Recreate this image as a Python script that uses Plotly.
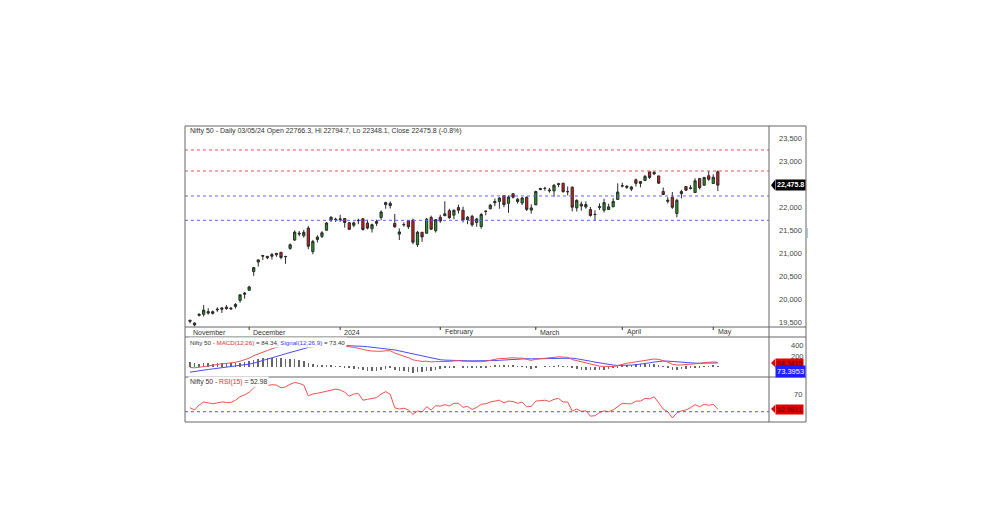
import plotly.graph_objects as go

# ---------------- data ----------------
dates = (["2023-11-%02d" % d for d in [12, 13, 15, 16, 17, 20, 21, 22, 23, 24, 28, 29, 30]] +
         ["2023-12-%02d" % d for d in [1, 4, 5, 6, 7, 8, 11, 12, 13, 14, 15, 18, 19, 20, 21, 22, 26, 27, 28, 29]] +
         ["2024-01-%02d" % d for d in [1, 2, 3, 4, 5, 8, 9, 10, 11, 12, 15, 16, 17, 18, 19, 20, 23, 24, 25, 29, 30, 31]] +
         ["2024-02-%02d" % d for d in [1, 2, 5, 6, 7, 8, 9, 12, 13, 14, 15, 16, 19, 20, 21, 22, 23, 26, 27, 28, 29]] +
         ["2024-03-%02d" % d for d in [1, 2, 4, 5, 6, 7, 11, 12, 13, 14, 15, 18, 19, 20, 21, 22, 26, 27, 28]] +
         ["2024-04-%02d" % d for d in [1, 2, 3, 4, 5, 8, 9, 10, 12, 15, 16, 18, 19, 22, 23, 24, 25, 26, 29, 30]] +
         ["2024-05-%02d" % d for d in [2, 3]])

opens = [19547, 19486, 19651, 19674, 19700, 19731, 19770, 19784, 19828, 19809, 19844, 19976, 20108,
         20195, 20601, 20808, 20950, 20932, 20934, 20965, 21019, 20930, 21104, 21285, 21435, 21378, 21544,
         21034, 21296, 21365, 21497, 21715, 21738,
         21727, 21752, 21661, 21605, 21705, 21747, 21653, 21529, 21688, 21773, 22054, 22081, 21647, 21414,
         21615, 21707, 21716, 21185, 21454, 21433, 21775, 21487,
         21780, 21812, 21921, 21825, 21990, 21932, 21727, 21800, 21664, 21578, 21907, 21963, 22095, 22123,
         22249, 22081, 22291, 22170, 22090, 22214, 21935,
         22048, 22403, 22404, 22372, 22351, 22508, 22517, 22334, 22432, 21983, 22064, 22002, 21946, 21843,
         21989, 21932, 21947, 22006, 22164,
         22455, 22427, 22389, 22592, 22556, 22578, 22765, 22720, 22677, 22339, 22125, 22212, 21861, 22291,
         22447, 22421, 22316, 22620, 22475, 22679,
         22511, 22766.3]
highs = [19547, 19495, 19693, 19876, 19806, 19756, 19826, 19825, 19876, 19832, 19916, 20104, 20158,
         20292, 20702, 20864, 20962, 20941, 21006, 20999, 21027, 20941, 21211, 21493, 21482, 21505, 21593,
         21289, 21390, 21477, 21675, 21801, 21770,
         21834, 21755, 21677, 21685, 21749, 21764, 21724, 21641, 21726, 21928, 22116, 22124, 21851, 21539,
         21670, 21707, 21750, 21482, 21459, 21763, 21814, 21742,
         21833, 22127, 21964, 21951, 22053, 22011, 21804, 21832, 21766, 21870, 21922, 22069, 22186, 22215,
         22249, 22252, 22297, 22200, 22218, 22229, 22060,
         22353, 22419, 22440, 22416, 22497, 22526, 22526, 22446, 22447, 22166, 22121, 22123, 22002, 21930,
         22081, 22180, 22073, 22193, 22516,
         22530, 22473, 22460, 22619, 22563, 22697, 22768, 22775, 22677, 22427, 22213, 22327, 22180, 22375,
         22447, 22476, 22626, 22620, 22655, 22783,
         22711, 22794.7]
lows = [19480, 19414, 19628, 19627, 19667, 19670, 19728, 19703, 19772, 19768, 19800, 19926, 20015,
        20183, 20508, 20711, 20852, 20868, 20863, 20923, 20867, 20769, 21075, 21268, 21365, 21337, 21087,
        20977, 21232, 21329, 21495, 21679, 21677,
        21680, 21555, 21500, 21564, 21629, 21493, 21517, 21449, 21593, 21715, 21964, 21970, 21550, 21285,
        21575, 21526, 21193, 21137, 21247, 21429, 21501, 21448,
        21659, 21806, 21742, 21737, 21860, 21665, 21629, 21574, 21574, 21531, 21822, 21954, 22021, 21964,
        21997, 21875, 22186, 22076, 22045, 21915, 21860,
        22047, 22370, 22353, 22313, 22224, 22433, 22318, 22256, 21906, 21905, 21922, 21965, 21793, 21711,
        21941, 21883, 21947, 21998, 22164,
        22428, 22395, 22347, 22446, 22429, 22564, 22612, 22696, 22503, 22259, 22079, 21962, 21777, 22188,
        22349, 22384, 22305, 22385, 22462, 22568,
        22511, 22348.1]
closes = [19525, 19443, 19675, 19765, 19732, 19694, 19783, 19812, 19802, 19795, 19890, 20097, 20133,
          20268, 20687, 20855, 20937, 20901, 20970, 20997, 20906, 20926, 21183, 21457, 21419, 21453, 21150,
          21255, 21349, 21442, 21655, 21779, 21731,
          21742, 21666, 21518, 21659, 21711, 21513, 21545, 21619, 21648, 21895, 22097, 22032, 21572, 21462,
          21622, 21572, 21239, 21454, 21353, 21738, 21522, 21726,
          21698, 21854, 21771, 21930, 21931, 21718, 21782, 21616, 21743, 21840, 21911, 22041, 22122, 22197,
          22055, 22218, 22213, 22122, 22198, 21951, 21983,
          22339, 22379, 22406, 22356, 22474, 22493, 22333, 22335, 21998, 22147, 22023, 22056, 21817, 21839,
          22012, 22097, 22005, 22124, 22327,
          22462, 22453, 22435, 22515, 22514, 22666, 22643, 22754, 22519, 22273, 22148, 21996, 22147, 22336,
          22368, 22402, 22570, 22420, 22643, 22605,
          22648, 22475.8]

macd = [-10, -15, -5, 10, 20, 28, 50, 58, 65, 72, 85, 105, 130,
        160, 205, 240, 270, 300, 330, 360, 375, 385, 405, 430, 445, 455, 430, 415, 405, 400, 405, 410, 405,
        395, 385, 370, 355, 340, 315, 300, 290, 282, 285, 295, 295, 255, 220, 195, 170, 130, 115, 100, 105, 92, 98,
        96, 102, 100, 110, 115, 105, 102, 88, 88, 95, 105, 122, 138, 155, 155, 165, 168, 162, 160, 138, 120,
        140, 152, 163, 165, 175, 185, 182, 175, 135, 115, 88, 68, 45, 25, 15, 12, 5, 8, 25,
        50, 68, 80, 95, 105, 122, 132, 145, 138, 118, 90, 50, 36, 38, 42, 49, 62, 65, 78, 85,
        92, 84.34]
signal = [-95, -80, -68, -55, -45, -35, -25, -15, -5, 5, 15, 25, 38,
          52, 70, 92, 115, 140, 165, 190, 215, 240, 265, 290, 315, 340, 355, 368, 375, 380, 385, 390, 392,
          393, 392, 388, 384, 380, 375, 368, 360, 350, 340, 330, 320, 310, 292, 275, 255, 235, 215, 195, 178, 160, 145,
          132, 125, 120, 117, 115, 114, 113, 112, 111, 110, 111, 113, 117, 122, 128, 135, 140, 145, 148, 150, 148,
          150, 152, 155, 157, 160, 163, 165, 166, 160, 150, 138, 122, 105, 88, 72, 58, 45, 35, 28,
          27, 30, 35, 42, 50, 62, 75, 90, 102, 108, 106, 98, 90, 82, 76, 72, 70, 69, 70, 71,
          72, 73.40]
rsi = [54.5, 52, 57.6, 61, 60, 59, 60, 61, 60.5, 60.5, 63, 67, 69,
       72, 77, 79, 80, 79.5, 80.5, 80, 77, 78, 81, 83, 82, 80, 68, 70, 70.8, 72, 73.4, 75, 75.5,
       74.5, 72, 67.5, 70, 70.5, 63, 64, 65, 66, 70, 72.6, 69.7, 54.5, 53, 54, 52, 47, 50.8, 49.7, 55.6, 52, 56.8,
       56.3, 58, 56.5, 59.5, 59.5, 55, 56, 52.5, 55, 58.5, 59, 61, 62, 63, 60, 62, 61.5, 59.5, 61, 55.6, 56,
       62, 62.5, 63, 61.5, 64, 65, 61, 61, 50.8, 53, 50.5, 51, 45, 45.5, 49, 51, 50, 52, 56,
       59.5, 59, 59, 62, 62, 65, 64.5, 67, 60, 53, 50, 43, 48.5, 51, 52, 54.5, 58, 55.6, 58.4, 57.2,
       58.4, 52.98]

month_labels = ["November", "December", "2024", "February", "March", "April", "May"]
month_starts = ["2023-11-12", "2023-12-01", "2024-01-01", "2024-02-01", "2024-03-01", "2024-04-01", "2024-05-02"]
price_ticks = [19500, 20000, 20500, 21000, 21500, 22000, 23000, 23500]
macd_ticks = [200, 400]
rsi_ticks = [70]
level_lines_red = [23239, 22783]
level_lines_blue = [22241, 21713]
macd_tag_text = "84.3415"
signal_tag_text = "73.3953"
rsi_tag_text = "52.9811"

# ---------------- figure ----------------
# page body has an 8px default margin -> plot area placed at x 185..769, y 126..422 on screen
L, T = 185 - 8, 126 - 8
PW, PH = 584, 296
idx = list(range(len(dates)))
hist = [m - s for m, s in zip(macd, signal)]
FONT = "Liberation Sans, Arial, sans-serif"
XR = [-1.1, 127.25]


def py(ypix):  # screen y pixel -> paper fraction
    return (422 - ypix) / PH


def px(xpix):  # screen x pixel -> paper fraction
    return (xpix - 185) / PW


fig = go.Figure()
fig.add_trace(go.Candlestick(
    x=idx, open=opens, high=highs, low=lows, close=closes,
    increasing=dict(fillcolor="#1f9e1f", line=dict(color="#2a2a2a", width=1)),
    decreasing=dict(fillcolor="#e01818", line=dict(color="#2a2a2a", width=1)),
    whiskerwidth=0, xaxis="x", yaxis="y", showlegend=False, hoverinfo="skip"))

fig.add_trace(go.Bar(x=idx, y=hist, width=0.12, marker=dict(color="#666", line=dict(width=0)),
                     xaxis="x2", yaxis="y2", showlegend=False, hoverinfo="skip"))
fig.add_trace(go.Scatter(x=idx, y=signal, mode="lines", line=dict(color="#4a4aff", width=1),
                         xaxis="x2", yaxis="y2", showlegend=False, hoverinfo="skip"))
fig.add_trace(go.Scatter(x=idx, y=macd, mode="lines", line=dict(color="#f05050", width=1),
                         xaxis="x2", yaxis="y2", showlegend=False, hoverinfo="skip"))
fig.add_trace(go.Scatter(x=idx, y=rsi, mode="lines", line=dict(color="#f05050", width=1),
                         xaxis="x3", yaxis="y3", showlegend=False, hoverinfo="skip"))

D_PRICE = [py(327), 1.0]
D_MACD = [py(377), py(337)]
D_RSI = [0.0, py(377)]

axis_common = dict(showgrid=False, zeroline=False, showline=False, ticks="", range=XR, fixedrange=True)
tickf = dict(size=7.5, color="#444", family=FONT)
fig.update_layout(
    width=1006, height=524,
    margin=dict(l=L, r=1006 - L - PW, t=T, b=524 - T - PH, autoexpand=False),
    paper_bgcolor="white", plot_bgcolor="white",
    font=dict(family=FONT, size=7, color="#333"),
    bargap=0,
    xaxis=dict(domain=[0, 1], anchor="y", showticklabels=False, rangeslider=dict(visible=False), **axis_common),
    xaxis2=dict(domain=[0, 1], anchor="y2", showticklabels=False, **axis_common),
    xaxis3=dict(domain=[0, 1], anchor="y3", showticklabels=False, **axis_common),
    yaxis=dict(domain=D_PRICE, range=[19399, 23759], side="right", showgrid=False, zeroline=False,
               tickvals=price_ticks, tickformat=",d", ticks="", ticklabelstandoff=9,
               tickfont=tickf, fixedrange=True),
    yaxis2=dict(domain=D_MACD, range=[-182, 545], side="right", showgrid=False, zeroline=False,
                tickvals=macd_ticks, ticks="", ticklabelstandoff=21, tickfont=tickf, fixedrange=True),
    yaxis3=dict(domain=D_RSI, range=[38.4, 89.2], side="right", showgrid=False, zeroline=False,
                tickvals=rsi_ticks, ticks="", ticklabelstandoff=24, tickfont=tickf, fixedrange=True),
)

shapes = []
for v in level_lines_red:
    shapes.append(dict(type="line", xref="paper", yref="y", x0=0, x1=1, y0=v, y1=v,
                       line=dict(color="#ff5050", width=1, dash="dot")))
for v in level_lines_blue:
    shapes.append(dict(type="line", xref="paper", yref="y", x0=0, x1=1, y0=v, y1=v,
                       line=dict(color="#6060ff", width=1, dash="dot")))
shapes.append(dict(type="line", xref="paper", yref="y3", x0=0, x1=1, y0=50, y1=50,
                   line=dict(color="#5050ff", width=1, dash="dot")))
XR_EDGE = px(806)
frame_col = "#666"
shapes.append(dict(type="rect", xref="paper", yref="paper", x0=0, x1=XR_EDGE, y0=0, y1=1,
                   line=dict(color=frame_col, width=1)))
shapes.append(dict(type="line", xref="paper", yref="paper", x0=1, x1=1, y0=0, y1=1,
                   line=dict(color=frame_col, width=1)))
for yy in [py(327), py(337), py(377)]:
    shapes.append(dict(type="line", xref="paper", yref="paper", x0=0, x1=XR_EDGE, y0=yy, y1=yy,
                       line=dict(color=frame_col, width=1)))
shapes.append(dict(type="line", xref="paper", yref="paper", x0=px(807.5), x1=px(807.5),
                   y0=py(228), y1=py(238), line=dict(color="#a8c8f0", width=1)))
for d in month_starts[1:]:
    i = dates.index(d)
    shapes.append(dict(type="line", xref="x", yref="paper", x0=i, x1=i, y0=py(327), y1=py(330),
                       line=dict(color="#333", width=1)))
last = closes[-1]
shapes.append(dict(type="path", xref="paper", yref="y",
                   path=f"M {px(771)} {last} L {px(775)} {last + 110} L {px(775)} {last - 110} Z",
                   fillcolor="black", line=dict(width=0)))
shapes.append(dict(type="path", xref="paper", yref="paper",
                   path=f"M {px(771)} {py(363)} L {px(775)} {py(359)} L {px(775)} {py(367)} Z",
                   fillcolor="#e00000", line=dict(width=0)))
shapes.append(dict(type="path", xref="paper", yref="paper",
                   path=f"M {px(771)} {py(409)} L {px(775)} {py(405)} L {px(775)} {py(413)} Z",
                   fillcolor="#e00000", line=dict(width=0)))
fig.update_layout(shapes=shapes)

ann = []
ann.append(dict(xref="paper", yref="paper", x=px(188), y=py(131.5),
                xanchor="left", yanchor="middle", showarrow=False,
                text=("Nifty 50 - Daily 03/05/24 Open %.1f, Hi %.1f, Lo %.1f, Close %.1f (-0.8%%)"
                      % (opens[-1], highs[-1], lows[-1], closes[-1])),
                font=dict(size=7, color="#333")))
ann.append(dict(xref="paper", yref="paper", x=px(188), y=py(342.5),
                xanchor="left", yanchor="middle", showarrow=False, bgcolor="white", borderpad=1,
                text=("Nifty 50 - <span style='color:#e83030'>MACD(12,26)</span> = %.2f, "
                      "<span style='color:#3a3aff'>Signal(12,26,9)</span> = %.2f") % (macd[-1], signal[-1]),
                font=dict(size=6.2, color="#333")))
ann.append(dict(xref="paper", yref="paper", x=px(188), y=py(382),
                xanchor="left", yanchor="middle", showarrow=False, bgcolor="white", borderpad=1,
                text="Nifty 50 - <span style='color:#e83030'>RSI(15)</span> = %.2f" % rsi[-1],
                font=dict(size=6.8, color="#333")))
for lab, d in zip(month_labels, month_starts):
    i = dates.index(d)
    xpos = i + 0.5 if lab != "November" else i + 0.3
    ann.append(dict(xref="x", yref="paper", x=xpos, y=py(332), xanchor="left", yanchor="middle",
                    showarrow=False, text=lab, font=dict(size=7, color="#333")))
ann.append(dict(xref="paper", yref="y", x=px(775), y=last, xanchor="left", yanchor="middle", showarrow=False,
                text="<b>%s</b>" % f"{last:,.1f}", bgcolor="black", font=dict(size=7, color="white"), borderpad=1))
ann.append(dict(xref="paper", yref="paper", x=px(775), y=py(363), xanchor="left", yanchor="middle",
                showarrow=False, text=macd_tag_text, bgcolor="#e00000", font=dict(size=7, color="#5a0000"), borderpad=1))
ann.append(dict(xref="paper", yref="paper", x=px(775), y=py(371), xanchor="left", yanchor="middle",
                showarrow=False, text=signal_tag_text, bgcolor="#2020ff", font=dict(size=7.5, color="white"), borderpad=1))
ann.append(dict(xref="paper", yref="paper", x=px(775), y=py(409), xanchor="left", yanchor="middle",
                showarrow=False, text=rsi_tag_text, bgcolor="#e00000", font=dict(size=7, color="#5a0000"), borderpad=1))
fig.update_layout(annotations=ann)

fig.write_html("out.html")
